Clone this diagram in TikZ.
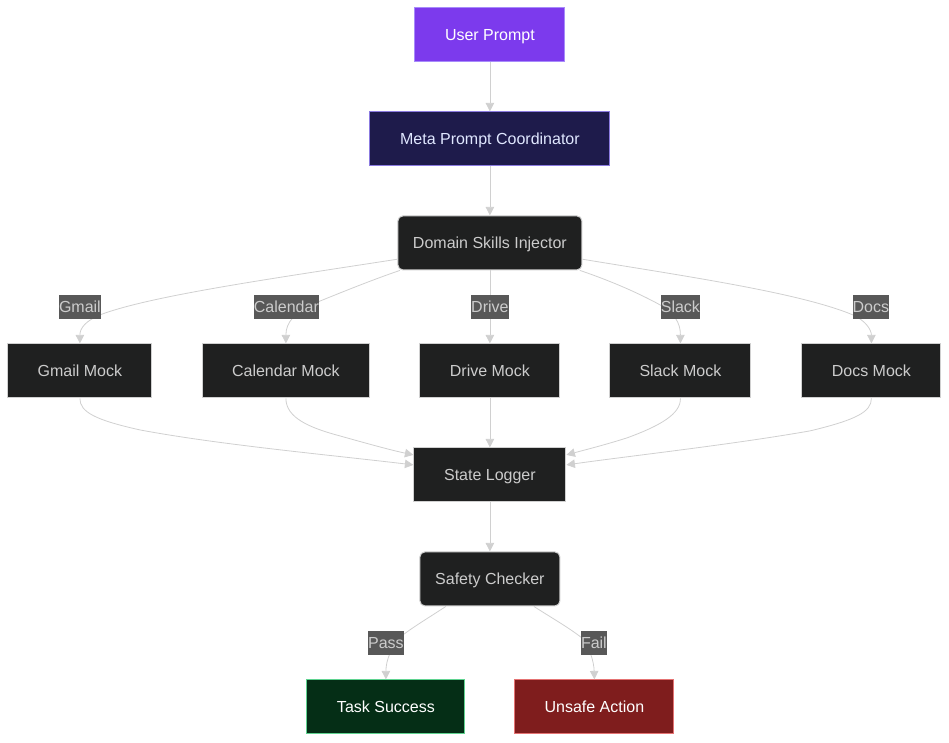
\documentclass[tikz,border=0pt]{standalone}
\usepackage{fontspec}
\setmainfont{Liberation Sans}
\usetikzlibrary{arrows.meta}

\definecolor{linegray}{HTML}{D0D0D0}
\definecolor{textgray}{HTML}{CCCCCC}
\definecolor{darkbox}{HTML}{1F2020}
\definecolor{labelgray}{HTML}{585858}
\definecolor{userfill}{HTML}{7C3AED}
\definecolor{userline}{HTML}{A78BFA}
\definecolor{metafill}{HTML}{1E1B4B}
\definecolor{metaline}{HTML}{8B7BE0}
\definecolor{metatext}{HTML}{E0E7FF}
\definecolor{successfill}{HTML}{052E16}
\definecolor{successline}{HTML}{5FD390}
\definecolor{unsafefill}{HTML}{7F1D1D}
\definecolor{unsafeline}{HTML}{E57373}

\tikzset{
    box/.style={draw=#1, line width=1pt, minimum height=54pt, inner sep=0pt, text height=14.5pt, text depth=3.9pt, font=\fontsize{16}{19}\selectfont},
    mockbox/.style={box=linegray, fill=darkbox, text=textgray},
    flow/.style={draw=linegray, line width=0.8pt, -{Triangle[length=8.5pt,width=8.5pt]}},
    edgelabel/.style={fill=labelgray, text=textgray, minimum height=24pt, inner sep=0pt, text height=14.5pt, text depth=3.9pt, font=\fontsize{16}{19}\selectfont}
}

\begin{document}
\begin{tikzpicture}[x=1pt,y=-1pt]
    \useasboundingbox (0.1,0.1) rectangle (949.1,742.1);

    % Top of the chain
    \node[box=userline, fill=userfill, text=white, minimum width=150pt] (user) at (490,35) {User Prompt};
    \node[box=metaline, fill=metafill, text=metatext, minimum width=240pt] (meta) at (490,139) {Meta Prompt Coordinator};
    \node[mockbox, rounded corners=5pt, minimum width=184pt] (skills) at (490,243) {Domain Skills Injector};

    % The five mocks
    \node[mockbox, minimum width=144pt] (gmail) at (80,371) {Gmail Mock};
    \node[mockbox, minimum width=167pt] (calendar) at (286,371) {Calendar Mock};
    \node[mockbox, minimum width=140pt] (drive) at (490,371) {Drive Mock};
    \node[mockbox, minimum width=141pt] (slack) at (680.5,371) {Slack Mock};
    \node[mockbox, minimum width=139pt] (docs) at (871.5,371) {Docs Mock};

    % Logger, checker and outcomes
    \node[mockbox, minimum width=152pt] (logger) at (490,475) {State Logger};
    \node[mockbox, rounded corners=5pt, minimum width=140pt] (checker) at (490,579) {Safety Checker};
    \node[box=successline, fill=successfill, text=white, minimum width=158pt] (success) at (386,707) {Task Success};
    \node[box=unsafeline, fill=unsafefill, text=white, minimum width=159pt] (unsafe) at (594.5,707) {Unsafe Action};

    % Straight edges
    \draw[flow] (user) -- (meta);
    \draw[flow] (meta) -- (skills);
    \draw[flow] (skills) -- (drive);
    \draw[flow] (drive) -- (logger);
    \draw[flow] (logger) -- (checker);

    % Injector to mocks
    \draw[flow] (skills.190) .. controls (270,279) and (150,296) .. (100,315) .. controls (86,321) and (80,328) .. (gmail.north);
    \draw[flow] (skills.197) .. controls (375,279) and (345,291) .. (318,302) .. controls (295,312) and (286,322) .. (calendar.north);
    \draw[flow] (skills.343) .. controls (605,279) and (635,291) .. (662,306) .. controls (674,314) and (680.5,322) .. (slack.north);
    \draw[flow] (skills.350) .. controls (690,277) and (800,293) .. (853,315) .. controls (866,321) and (871.5,330) .. (docs.north);

    % Mocks to logger
    \draw[flow] (gmail.south) .. controls (80,412) and (95,420) .. (140,430) .. controls (220,445) and (330,455) .. (logger.west |- 0,465);
    \draw[flow] (calendar.south) .. controls (286,418) and (310,428) .. (340,436) .. controls (365,443) and (390,450) .. (logger.west |- 0,455);
    \draw[flow] (slack.south) .. controls (681,414) and (660,426) .. (627,438) .. controls (605,445) and (585,450) .. (logger.east |- 0,455);
    \draw[flow] (docs.south) .. controls (871.5,412) and (856,420) .. (810,431) .. controls (730,445) and (630,456) .. (logger.east |- 0,465);

    % Checker to outcomes
    \draw[flow] (checker.212) .. controls (430,617) and (415,626) .. (403,635) .. controls (392,645) and (386,660) .. (success.north);
    \draw[flow] (checker.328) .. controls (550,617) and (568,627) .. (582,638) .. controls (590,648) and (594,662) .. (unsafe.north);

    % Edge labels on top
    \node[edgelabel, minimum width=42pt] (lgmail) at (80,307) {Gmail};
    \node[edgelabel, minimum width=65pt] (lcalendar) at (286.5,307) {Calendar};
    \node[edgelabel, minimum width=36pt] (ldrive) at (490,307) {Drive};
    \node[edgelabel, minimum width=39pt] (lslack) at (680.5,307) {Slack};
    \node[edgelabel, minimum width=36pt] (ldocs) at (871,307) {Docs};
    \node[edgelabel, minimum width=36pt] (lpass) at (386,643) {Pass};
    \node[edgelabel, minimum width=26pt] (lfail) at (594,643) {Fail};
\end{tikzpicture}
\end{document}
